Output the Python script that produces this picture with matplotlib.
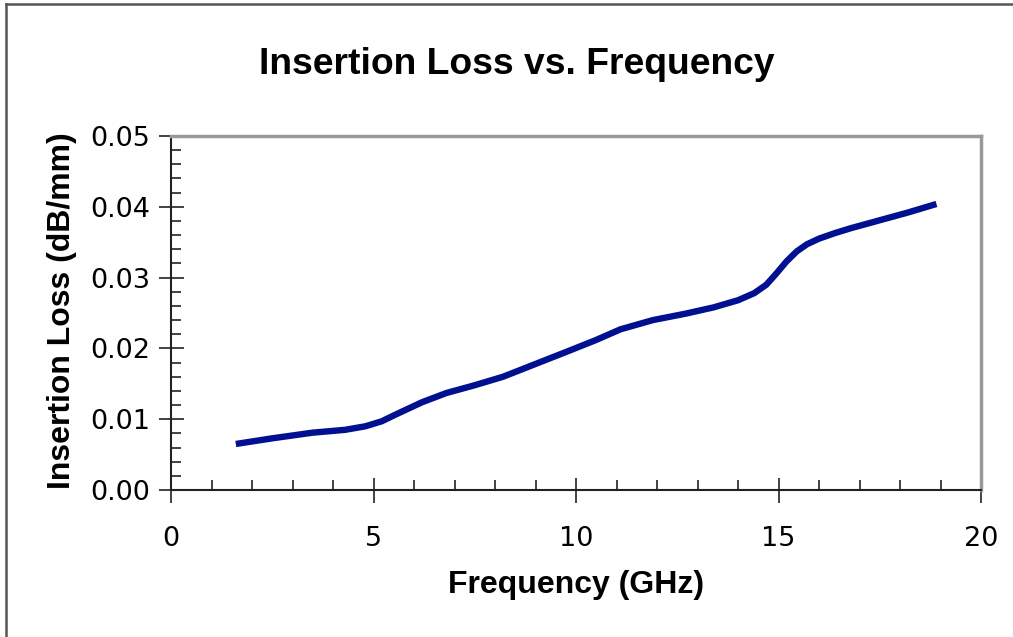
import matplotlib
matplotlib.use('Agg')
import matplotlib.pyplot as plt
from matplotlib.lines import Line2D
from matplotlib.ticker import MultipleLocator, FormatStrFormatter

# values
freq_ghz = [1.6, 2.5, 3.5, 4.3, 4.8, 5.2, 5.6, 6.2, 6.8, 7.5, 8.2, 9.0, 9.8, 10.5,
            11.1, 11.9, 12.7, 13.4, 14.0, 14.4, 14.7, 14.95, 15.2, 15.45, 15.7, 16.0,
            16.4, 16.8, 17.5, 18.2, 18.9]
loss_db_mm = [0.0065, 0.0073, 0.0081, 0.0085, 0.0090, 0.0097, 0.0108, 0.0124, 0.0137,
              0.0148, 0.0160, 0.0178, 0.0196, 0.0212, 0.0227, 0.0240, 0.0249, 0.0258,
              0.0268, 0.0278, 0.0290, 0.0306, 0.0323, 0.0337, 0.0347, 0.0355, 0.0363,
              0.0370, 0.0381, 0.0392, 0.0404]
x_ticks = [0, 5, 10, 15, 20]
y_ticks = [0.00, 0.01, 0.02, 0.03, 0.04, 0.05]

W, H = 1013, 637
fig = plt.figure(figsize=(W / 100, H / 100), dpi=100)
ax = fig.add_axes([171 / W, 1 - 490 / H, 810 / W, 354 / H])

ax.plot(freq_ghz, loss_db_mm, color='#001090', lw=4.6, solid_capstyle='butt',
        solid_joinstyle='round')

ax.set_xlim(0, 20)
ax.set_ylim(0, 0.05)
ax.set_xticks(x_ticks)
ax.set_yticks(y_ticks)
ax.xaxis.set_minor_locator(MultipleLocator(1))
ax.yaxis.set_minor_locator(MultipleLocator(0.002))
ax.yaxis.set_major_formatter(FormatStrFormatter('%.2f'))

ax.tick_params(which='major', direction='inout', length=18, width=1.2, color='#222222',
               labelsize=19.5)
ax.tick_params(axis='x', which='major', pad=17)
ax.tick_params(axis='y', which='major', pad=6)
ax.tick_params(which='minor', direction='in', length=7, width=1.2, color='#222222')
for lab in ax.get_xticklabels() + ax.get_yticklabels():
    lab.set_family('DejaVu Sans')

for side in ('left', 'bottom'):
    ax.spines[side].set_color('#222222')
    ax.spines[side].set_linewidth(1.5)
for side in ('top', 'right'):
    ax.spines[side].set_color('#999999')
    ax.spines[side].set_linewidth(2.5)

bold = dict(family='Liberation Sans', weight='bold')
fig.text(517 / W, 1 - 64 / H, 'Insertion Loss vs. Frequency', ha='center', va='center',
         fontsize=26.8, **bold)
fig.text(576 / W, 1 - 585 / H, 'Frequency (GHz)', ha='center', va='center',
         fontsize=23, **bold)
fig.text(62 / W, 1 - 311 / H, 'Insertion Loss (dB/mm)', ha='center', va='center',
         rotation=90, fontsize=23, **bold)

# outer chart frame (only top and left edges visible)
fig.add_artist(Line2D([6 / W, 6 / W], [0, 1 - 4 / H], transform=fig.transFigure,
                      color='#555555', lw=1.8))
fig.add_artist(Line2D([6 / W, 1], [1 - 4 / H, 1 - 4 / H], transform=fig.transFigure,
                      color='#555555', lw=1.8))

fig.savefig('out.png', dpi=100)
